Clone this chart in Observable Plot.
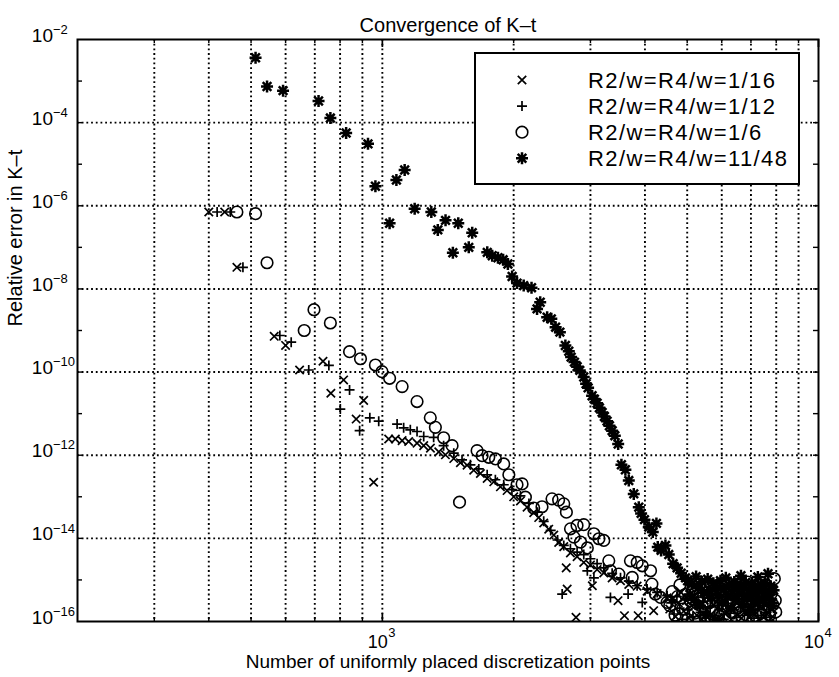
<!DOCTYPE html>
<html>
<head>
<meta charset="utf-8">
<script src="https://cdn.jsdelivr.net/npm/d3@7"></script>
<script src="https://cdn.jsdelivr.net/npm/@observablehq/plot@0.6"></script>
<style>
  body { margin: 0; background: #fff; }
  #wrap { position: relative; width: 839px; height: 677px; font-family: "Liberation Sans", Arial, Helvetica, sans-serif; }
  #wrap svg { display: block; }
</style>
</head>
<body>
<div id="wrap"></div>
<script>
// Series names (legend order)
const seriesNames = ["R2/w=R4/w=1/16", "R2/w=R4/w=1/12", "R2/w=R4/w=1/6", "R2/w=R4/w=11/48"];

// Number of discretization points and log10 of the relative error, per series
const crossN = [400, 435, 464, 565, 600, 646, 731, 762, 815, 871, 906, 955, 1034, 1071, 1110, 1149, 1201,
  1244, 1289, 1347, 1395, 1458, 1510, 1564, 1620, 1678, 1739, 1801, 1865, 1932, 2001, 2073, 2147, 2224, 2283,
  2344, 2407, 2472, 2537, 2606, 2699, 2796, 2896, 3000, 3107, 3219, 3364, 3516, 3673, 3838, 4046, 4266, 4497,
  2640, 2653, 2780, 3030, 3470, 3590, 3860, 4188,
  4560, 4630, 4700, 4770, 4840, 4910, 4980, 5050, 5120, 5190, 5260, 5330, 5400, 5470, 5540, 5610, 5680, 5750,
  5820, 5890, 5960, 6030, 6100, 6170, 6240, 6310, 6380, 6450, 6520, 6590, 6660, 6730, 6800, 6870, 6940, 7010,
  7080, 7150, 7220, 7290, 7360, 7430, 7500, 7570, 7640, 7710, 7780, 7850];
const crossLogErr = [-6.15, -6.15, -7.48, -9.14, -9.36, -9.95, -9.74, -10.51, -10.19, -11.13, -10.68, -12.65, -11.61, -11.61, -11.65, -11.67, -11.71,
  -11.77, -11.83, -11.92, -11.99, -12.08, -12.18, -12.24, -12.36, -12.44, -12.56, -12.64, -12.76, -12.85, -13.00, -13.10, -13.25, -13.38, -13.50,
  -13.63, -13.78, -13.92, -14.10, -14.20, -14.35, -14.44, -14.58, -14.64, -14.75, -14.83, -14.95, -15.02, -15.11, -15.15, -15.27, -15.33, -15.43,
  -14.71, -15.22, -15.90, -15.14, -15.50, -15.86, -15.86, -15.74,
  -15.70, -15.45, -15.88, -15.55, -15.30, -15.75, -15.50, -15.92, -15.62, -15.40, -15.85, -15.58, -15.95, -15.48, -15.72, -15.35, -15.82, -15.60,
  -15.98, -15.45, -15.70, -15.88, -15.52, -15.78, -15.40, -15.95, -15.65, -15.50, -15.85, -15.60, -15.92, -15.45, -15.75, -15.55, -15.90, -15.68,
  -15.42, -15.82, -15.58, -15.95, -15.65, -15.48, -15.88, -15.62, -15.78, -15.52, -15.92, -15.70];

const plusN = [418, 448, 479, 582, 618, 678, 754, 801, 841, 887, 936, 981, 1081, 1119, 1159, 1201,
  1244, 1311, 1382, 1458, 1523, 1592, 1664, 1739, 1816, 1898, 1982, 2073, 2168, 2266, 2344, 2432, 2522, 2606,
  2699, 2796, 2896, 3000, 3107, 3219, 3364, 3516, 3673, 3838, 4046, 4266, 4497,
  2584, 2951, 3055, 3334, 3660, 3944,
  4595, 4665, 4735, 4805, 4875, 4945, 5015, 5085, 5155, 5225, 5295, 5365, 5435, 5505, 5575, 5645, 5715, 5785,
  5855, 5925, 5995, 6065, 6135, 6205, 6275, 6345, 6415, 6485, 6555, 6625, 6695, 6765, 6835, 6905, 6975, 7045,
  7115, 7185, 7255, 7325, 7395, 7465, 7535, 7605, 7675, 7745, 7815, 7885];
const plusLogErr = [-6.15, -6.15, -7.48, -9.12, -9.28, -9.95, -9.84, -10.89, -10.43, -11.41, -11.10, -11.18, -11.25, -11.34, -11.39, -11.43,
  -11.55, -11.57, -11.77, -11.95, -12.11, -12.23, -12.33, -12.47, -12.59, -12.71, -12.83, -12.98, -13.16, -13.37, -13.59, -13.81, -14.04, -14.17,
  -14.25, -14.33, -14.39, -14.49, -14.61, -14.71, -14.84, -14.95, -15.03, -15.14, -15.22, -15.30, -15.38,
  -15.34, -14.78, -14.95, -15.42, -15.34, -15.54,
  -15.55, -15.82, -15.40, -15.68, -15.95, -15.45, -15.72, -15.35, -15.88, -15.60, -15.42, -15.78, -15.52, -15.92, -15.38, -15.65, -15.50, -15.85,
  -15.42, -15.70, -15.58, -15.95, -15.35, -15.62, -15.80, -15.48, -15.72, -15.90, -15.40, -15.66, -15.52, -15.85, -15.38, -15.75, -15.60, -15.45,
  -15.92, -15.55, -15.70, -15.40, -15.85, -15.62, -15.48, -15.78, -15.55, -15.90, -15.45, -15.68];

const circleN = [464, 512, 544, 662, 697, 760, 841, 891, 964, 998, 1039, 1110, 1201, 1288, 1323, 1382, 1445, 1503,
  1649, 1693, 1754, 1817, 1898, 1950, 2036, 2091, 2128, 2223, 2323, 2449, 2536, 2606, 2642, 2700, 2750, 2795,
  2847, 2895, 2951, 3055, 3137, 3219, 3305, 3334, 3485, 3705, 3740, 3840, 3944, 4120, 4150, 4228, 4344, 4496,
  4560, 4620, 4690, 4750, 4810, 4880, 4950, 5010, 5080, 5150, 5210, 5280, 5350, 5420, 5490, 5550, 5620, 5690,
  5760, 5830, 5900, 5970, 6040, 6110, 6180, 6250, 6320, 6390, 6460, 6530, 6600, 6670, 6740, 6810, 6880, 6950,
  7020, 7090, 7160, 7230, 7300, 7370, 7440, 7510, 7580, 7650, 7720, 7790, 7860, 7920, 7960, 7980];
const circleLogErr = [-6.15, -6.19, -7.37, -9.00, -8.50, -8.82, -9.51, -9.68, -9.83, -9.99, -10.15, -10.35, -10.71, -11.10, -11.33, -11.58, -11.77, -13.13,
  -11.89, -12.01, -12.05, -12.09, -12.21, -12.47, -12.71, -12.69, -13.01, -13.27, -13.24, -13.05, -13.08, -13.17, -13.37, -13.77, -13.97, -13.69,
  -14.09, -13.67, -14.23, -13.89, -14.01, -14.05, -14.54, -14.78, -14.86, -14.54, -14.94, -14.58, -14.66, -14.78, -15.10, -15.34, -15.42, -15.54,
  -15.62, -15.28, -15.85, -15.40, -15.12, -15.70, -15.35, -15.95, -15.50, -15.22, -15.80, -15.45, -15.10, -15.65, -15.90, -15.30, -15.55, -15.75,
  -15.15, -15.48, -15.85, -15.30, -15.62, -15.95, -15.20, -15.52, -15.78, -15.35, -15.10, -15.68, -15.42, -15.88, -15.25, -15.58, -15.05, -15.72,
  -15.38, -15.92, -15.15, -15.60, -15.42, -15.80, -15.28, -15.66, -15.12, -15.50, -15.85, -15.33, -15.60, -14.97, -15.49, -15.77];

const starN = [512, 544, 592, 714, 760, 826, 927, 964, 1039, 1077, 1125, 1186, 1295, 1340, 1396, 1451, 1493, 1578,
  1607, 1740, 1786, 1841, 1892, 1940, 1984, 2036, 2109, 2198, 2263, 2301, 2387, 2440, 2496, 2553, 2628, 2676,
  2709, 2757, 2796, 2836, 2896, 2932, 2963, 3026, 3063, 3107, 3145, 3190, 3229, 3275, 3316, 3364, 3412, 3473,
  3533, 3608, 3673, 3771, 3872, 3920, 3990, 4081, 4169, 4250, 4280, 4356, 4457, 4536, 4642, 4740, 4842, 4955,
  5010, 5070, 5120, 5180, 5240, 5290, 5350, 5400, 5460, 5510, 5570, 5620, 5680, 5740, 5790, 5850, 5900, 5960,
  6020, 6070, 6130, 6180, 6240, 6300, 6350, 6410, 6470, 6520, 6580, 6640, 6690, 6750, 6810, 6860, 6920, 6980,
  7030, 7090, 7150, 7200, 7260, 7320, 7370, 7430, 7490, 7540, 7600, 7660, 7710, 7770, 7830, 7890];
const starLogErr = [-2.44, -3.13, -3.23, -3.48, -3.89, -4.25, -4.51, -5.53, -6.42, -5.38, -5.14, -6.07, -6.15, -6.58, -6.35, -7.13, -6.42, -7.00,
  -6.65, -7.12, -7.20, -7.25, -7.30, -7.40, -7.70, -7.86, -7.92, -7.97, -8.48, -8.32, -8.68, -8.72, -8.92, -9.04, -9.36, -9.50,
  -9.64, -9.76, -9.87, -9.96, -10.12, -10.28, -10.38, -10.57, -10.65, -10.75, -10.86, -10.97, -11.07, -11.18, -11.29, -11.41, -11.53, -11.73,
  -12.23, -12.35, -12.61, -12.93, -13.25, -13.40, -13.55, -13.73, -13.85, -13.64, -14.21, -14.29, -14.17, -14.39, -14.61, -14.71, -14.84, -14.95,
  -15.02, -15.35, -15.10, -15.48, -14.92, -15.20, -15.62, -15.05, -15.30, -15.85, -14.98, -15.25, -15.42, -15.08, -15.95, -15.18, -15.36, -15.02,
  -15.55, -15.22, -14.95, -15.40, -15.12, -15.68, -15.28, -15.05, -15.45, -15.15, -15.33, -14.90, -15.58, -15.20, -15.06, -15.40, -15.25, -15.72,
  -15.10, -15.35, -15.18, -15.50, -14.93, -15.28, -15.12, -15.45, -15.22, -15.08, -15.38, -14.85, -15.30, -15.15, -15.55, -15.25];

// Axis ticks
const xMinorTicks = [300, 400, 500, 600, 700, 800, 900, 2000, 3000, 4000, 5000, 6000, 7000, 8000, 9000];
const xMajorTicks = [1000, 10000];
const xGridLines = [300, 400, 500, 600, 700, 800, 900, 1000, 2000, 3000, 4000, 5000, 6000, 7000, 8000, 9000];
const xLabelExponents = [3, 4];
const yTickExponents = [-15, -14, -13, -12, -11, -10, -9, -8, -7, -6, -5, -4, -3];
const yGridExponents = [-14, -12, -10, -8, -6, -4];
const yLabelExponents = [-16, -14, -12, -10, -8, -6, -4, -2];

const titleText = "Convergence of K\u2013t";
const xLabelText = "Number of uniformly placed discretization points";
const yLabelText = "Relative error in K\u2013t";

// Build rows for each series
function rowsFor(ns, logs) {
  const n = Math.min(ns.length, logs.length);
  return d3.range(n).map(i => ({n: ns[i], err: 10 ** logs[i]}));
}
const crossRows = rowsFor(crossN, crossLogErr);
const plusRows = rowsFor(plusN, plusLogErr);
const circleRows = rowsFor(circleN, circleLogErr);
const starRows = rowsFor(starN, starLogErr);

// Marker shapes (r = half-extent)
const shape = f => ({draw(ctx, size) { f(ctx, Math.sqrt(size / Math.PI)); }});
const timesSym = shape((c, r) => { c.moveTo(-r, -r); c.lineTo(r, r); c.moveTo(-r, r); c.lineTo(r, -r); });
const plusSym = shape((c, r) => { c.moveTo(-r, 0); c.lineTo(r, 0); c.moveTo(0, -r); c.lineTo(0, r); });
const circleSym = shape((c, r) => { c.moveTo(r, 0); c.arc(0, 0, r, 0, 2 * Math.PI); });
const starSym = shape((c, r) => {
  const d = r * 0.72;
  c.moveTo(-r, 0); c.lineTo(r, 0); c.moveTo(0, -r); c.lineTo(0, r);
  c.moveTo(-d, -d); c.lineTo(d, d); c.moveTo(-d, d); c.lineTo(d, -d);
});

const markers = [
  {sym: timesSym, r: 4.2, sw: 1.7},
  {sym: plusSym, r: 5.0, sw: 1.7},
  {sym: circleSym, r: 5.8, sw: 1.6},
  {sym: starSym, r: 6.0, sw: 2.5}
];

const W = 839, H = 677;
const mL = 77, mR = 21, mT = 39, mB = 56;
const innerW = W - mL - mR, innerH = H - mT - mB;
const FONT = '"Liberation Sans", Arial, Helvetica, sans-serif';

const dotted = {stroke: "#000", strokeWidth: 1.9, strokeDasharray: "1.8,2.9"};

const chart = Plot.plot({
  width: W,
  height: H,
  marginLeft: mL,
  marginRight: mR,
  marginTop: mT,
  marginBottom: mB,
  x: {type: "log", domain: [200, 10000], axis: null},
  y: {type: "log", domain: [1e-16, 1e-2], axis: null},
  style: {fontFamily: FONT, background: "#fff", color: "#000", overflow: "visible"},
  marks: [
    // grid
    Plot.ruleX(xGridLines, {x: d => d, ...dotted}),
    Plot.ruleY(yGridExponents, {y: e => 10 ** e, ...dotted}),
    // data
    Plot.dot(crossRows, {x: "n", y: "err", symbol: markers[0].sym, r: markers[0].r, fill: "none", stroke: "#000", strokeWidth: markers[0].sw, clip: true}),
    Plot.dot(plusRows, {x: "n", y: "err", symbol: markers[1].sym, r: markers[1].r, fill: "none", stroke: "#000", strokeWidth: markers[1].sw, clip: true}),
    Plot.dot(circleRows, {x: "n", y: "err", symbol: markers[2].sym, r: markers[2].r, fill: "none", stroke: "#000", strokeWidth: markers[2].sw, clip: true}),
    Plot.dot(starRows, {x: "n", y: "err", symbol: markers[3].sym, r: markers[3].r, fill: "none", stroke: "#000", strokeWidth: markers[3].sw, clip: true}),
    // inward ticks on all four sides
    Plot.ruleX(xMinorTicks, {x: d => d, insetTop: innerH - 4, stroke: "#000", strokeWidth: 1.4}),
    Plot.ruleX(xMinorTicks, {x: d => d, insetBottom: innerH - 4, stroke: "#000", strokeWidth: 1.4}),
    Plot.ruleX(xMajorTicks, {x: d => d, insetTop: innerH - 8, stroke: "#000", strokeWidth: 1.7}),
    Plot.ruleX(xMajorTicks, {x: d => d, insetBottom: innerH - 8, stroke: "#000", strokeWidth: 1.7}),
    Plot.ruleY(yTickExponents, {y: e => 10 ** e, insetRight: innerW - 5, stroke: "#000", strokeWidth: 1.4}),
    Plot.ruleY(yTickExponents, {y: e => 10 ** e, insetLeft: innerW - 5, stroke: "#000", strokeWidth: 1.4}),
    Plot.frame({stroke: "#000", strokeWidth: 2}),
    // tick labels: base and exponent
    Plot.text(xLabelExponents, {x: e => 10 ** e, text: () => "10", frameAnchor: "bottom", textAnchor: "end", dx: 5.5, dy: 26, fontSize: 18}),
    Plot.text(xLabelExponents, {x: e => 10 ** e, text: e => String(e), frameAnchor: "bottom", textAnchor: "start", dx: 6, dy: 15.5, fontSize: 13}),
    Plot.text(yLabelExponents, {y: e => 10 ** e, text: () => "10", frameAnchor: "left", textAnchor: "end", dx: -24.5, dy: -4, fontSize: 19}),
    Plot.text(yLabelExponents, {y: e => 10 ** e, text: e => "\u2212" + Math.abs(e), frameAnchor: "left", textAnchor: "start", dx: -24.5, dy: -10, fontSize: 13}),
    // title and axis labels
    Plot.text([titleText], {text: d => d, frameAnchor: "top", dy: -22, fontSize: 20}),
    Plot.text([xLabelText], {text: d => d, frameAnchor: "bottom", dy: 46, fontSize: 19, letterSpacing: 0.4}),
    Plot.text([yLabelText], {text: d => d, frameAnchor: "left", rotate: -90, dx: -62, dy: -4, fontSize: 20})
  ]
});

const wrap = document.getElementById("wrap");
wrap.appendChild(chart);

// Legend box inside the plot area
const legW = 324, legH = 131;
const legend = d3.create("svg")
  .attr("width", legW + 2)
  .attr("height", legH + 2)
  .style("position", "absolute")
  .style("left", "474px")
  .style("top", "52px")
  .style("overflow", "visible");
legend.append("rect")
  .attr("x", 1).attr("y", 1)
  .attr("width", legW).attr("height", legH)
  .attr("fill", "#fff").attr("stroke", "#000").attr("stroke-width", 2);
seriesNames.forEach((name, i) => {
  const cy = 28 + i * 26.1;
  const m = markers[i];
  const p = d3.path();
  m.sym.draw(p, m.r * m.r * Math.PI);
  legend.append("path")
    .attr("d", p.toString())
    .attr("transform", `translate(48,${cy})`)
    .attr("fill", "none").attr("stroke", "#000").attr("stroke-width", m.sw);
  legend.append("text")
    .attr("x", 114).attr("y", cy).attr("dy", "0.36em")
    .attr("font-family", FONT).attr("font-size", 22)
    .attr("letter-spacing", "1.4px")
    .attr("fill", "#000")
    .text(name);
});
wrap.appendChild(legend.node());
</script>
</body>
</html>
